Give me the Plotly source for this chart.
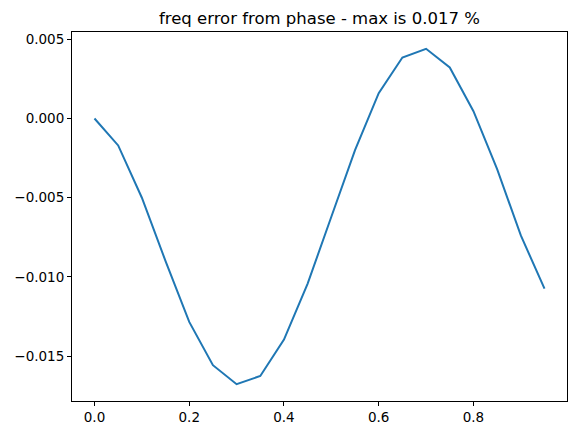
import plotly.graph_objects as go

x_vals = [0.0, 0.05, 0.1, 0.15, 0.2, 0.25, 0.3, 0.35, 0.4, 0.45,
          0.5, 0.55, 0.6, 0.65, 0.7, 0.75, 0.8, 0.85, 0.9, 0.95]
freq_err = [0.0, -0.0017, -0.0050, -0.0090, -0.01284, -0.01557, -0.01677, -0.01625,
            -0.01395, -0.01042, -0.0062, -0.0020, 0.0016, 0.00385, 0.0044, 0.00322,
            0.00046, -0.0032, -0.00738, -0.01074]
x_ticks = [0.0, 0.2, 0.4, 0.6, 0.8]
x_tick_text = ["0.0", "0.2", "0.4", "0.6", "0.8"]
y_ticks = [0.005, 0.0, -0.005, -0.010, -0.015]
y_tick_text = ["0.005", "0.000", "\u22120.005", "\u22120.010", "\u22120.015"]
title_text = "freq error from phase - max is 0.017 %"

fig = go.Figure()
fig.add_trace(go.Scatter(x=x_vals, y=freq_err, mode="lines",
                         line=dict(color="#1f77b4", width=2)))

font = dict(family="DejaVu Sans", size=13.5, color="black")
axis_common = dict(showgrid=False, zeroline=False, showline=True, mirror=True,
                   linecolor="black", linewidth=1, ticks="outside", ticklen=4,
                   tickcolor="black", tickwidth=1, tickfont=font)

ymin, ymax = min(freq_err), max(freq_err)
ypad = (ymax - ymin) * 0.05
xpad = (max(x_vals) - min(x_vals)) * 0.05

fig.update_layout(
    width=576, height=435,
    margin=dict(l=71.5, r=8.7, t=32.3, b=34),
    paper_bgcolor="white", plot_bgcolor="white",
    showlegend=False,
    title=dict(text=title_text, x=(71.5 + 567.3) / 2 / 576, xanchor="center",
               y=1 - 18 / 435, yanchor="middle",
               font=dict(family="DejaVu Sans", size=16.5, color="black")),
    xaxis=dict(range=[min(x_vals) - xpad, max(x_vals) + xpad],
               tickvals=x_ticks, ticktext=x_tick_text, **axis_common),
    yaxis=dict(range=[ymin - ypad, ymax + ypad],
               tickvals=y_ticks, ticktext=y_tick_text, **axis_common),
)

fig.write_html("out.html")
